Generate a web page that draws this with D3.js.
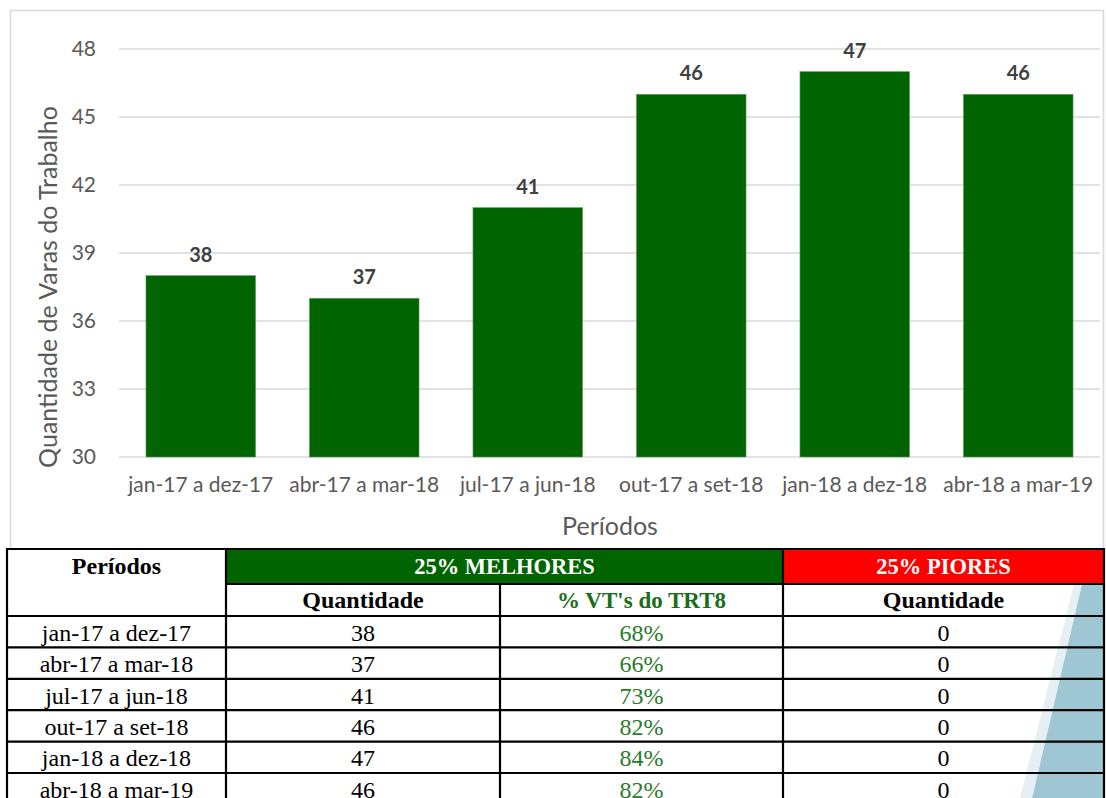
<!DOCTYPE html>
<html>
<head>
<meta charset="utf-8">
<script src="https://cdn.jsdelivr.net/npm/d3@7"></script>
<style>
  body { margin: 0; background: #fff; }
  svg { display: block; }
</style>
</head>
<body>
<div id="chart"></div>
<script>
// chart data
var periods = ["jan-17 a dez-17", "abr-17 a mar-18", "jul-17 a jun-18", "out-17 a set-18", "jan-18 a dez-18", "abr-18 a mar-19"];
var quantidade = [38, 37, 41, 46, 47, 46];
var yTicks = [30, 33, 36, 39, 42, 45, 48];

// table data
var pctTRT8 = ["68%", "66%", "73%", "82%", "84%", "82%"];
var piores = [0, 0, 0, 0, 0, 0];

var W = 1106, H = 798;
var green = "#006400";

var svg = d3.select("#chart").append("svg").attr("width", W).attr("height", H);

// chart frame
svg.append("rect").attr("x", 10.5).attr("y", 10.5).attr("width", 1093).attr("height", 560)
    .attr("fill", "#fff").attr("stroke", "#d9d9d9").attr("stroke-width", 1.5);

var x = d3.scaleBand().domain(periods).range([119, 1100]).paddingInner(0.33).paddingOuter(0.165);
var y = d3.scaleLinear().domain([30, 48]).range([457, 49]);

var g = svg.append("g");

// grid
g.selectAll("line.grid").data(yTicks).join("line")
    .attr("class", "grid")
    .attr("x1", 119).attr("x2", 1100)
    .attr("y1", function (d) { return y(d); }).attr("y2", function (d) { return y(d); })
    .attr("stroke", "#d9d9d9").attr("stroke-width", 1.3);

// y axis labels
var yAxis = g.append("g").attr("transform", "translate(96,0)")
    .call(d3.axisLeft(y).tickValues(yTicks).tickSize(0).tickPadding(0));
yAxis.select(".domain").remove();
yAxis.selectAll("text").attr("font-family", "Lato, sans-serif").attr("font-size", 21).attr("fill", "#595959");

// x axis labels
var xAxis = g.append("g").attr("transform", "translate(0,477)")
    .call(d3.axisBottom(x).tickSize(0).tickPadding(0));
xAxis.select(".domain").remove();
xAxis.selectAll("text").attr("font-family", "Lato, sans-serif").attr("font-size", 21).attr("fill", "#595959");

// bars
g.selectAll("rect.bar").data(periods).join("rect")
    .attr("class", "bar")
    .attr("x", function (d) { return x(d); })
    .attr("width", x.bandwidth())
    .attr("y", function (d, i) { return y(quantidade[i]); })
    .attr("height", function (d, i) { return y(30) - y(quantidade[i]); })
    .attr("fill", green).attr("stroke", "#5c9a5c").attr("stroke-width", 0.6);

// value labels
g.selectAll("text.val").data(periods).join("text")
    .attr("class", "val")
    .attr("x", function (d) { return x(d) + x.bandwidth() / 2; })
    .attr("y", function (d, i) { return y(quantidade[i]) - 14; })
    .attr("text-anchor", "middle")
    .attr("font-family", "Lato, sans-serif").attr("font-weight", "bold").attr("font-size", 20)
    .attr("fill", "#404040")
    .text(function (d, i) { return quantidade[i]; });

// axis titles
g.append("text").attr("x", 610).attr("y", 535).attr("text-anchor", "middle")
    .attr("font-family", "Lato, sans-serif").attr("font-size", 25).attr("fill", "#595959")
    .text("Períodos");
g.append("text").attr("transform", "translate(57,287) rotate(-90)").attr("text-anchor", "middle")
    .attr("font-family", "Lato, sans-serif").attr("font-size", 25).attr("fill", "#595959")
    .text("Quantidade de Varas do Trabalho");

// ---- table ----
var t = svg.append("g");
var cols = [7, 226, 500, 783, 1104];
var rowTop = [549, 584, 616];
var rowH = 31.4;
var serif = "'Liberation Serif', 'Times New Roman', serif";

t.append("rect").attr("x", cols[0]).attr("y", 549).attr("width", cols[4] - cols[0]).attr("height", H - 549).attr("fill", "#fff");

// decorative blue wedge behind the last column
t.append("polygon")
    .attr("points", [[1082, 584], [1104, 584], [1104, 798], [1032, 798]].join(" "))
    .attr("fill", "#9fc6d3");
t.append("polygon")
    .attr("points", [[1074, 584], [1082, 584], [1032, 798], [1020, 798]].join(" "))
    .attr("fill", "#dceaef").attr("opacity", 0.7);

// header fills
t.append("rect").attr("x", cols[1]).attr("y", rowTop[0]).attr("width", cols[3] - cols[1]).attr("height", rowTop[1] - rowTop[0]).attr("fill", green);
t.append("rect").attr("x", cols[3]).attr("y", rowTop[0]).attr("width", cols[4] - cols[3]).attr("height", rowTop[1] - rowTop[0]).attr("fill", "#ff0000");

function cellText(cx, cy, txt, opts) {
    t.append("text").attr("x", cx).attr("y", cy).attr("text-anchor", "middle")
        .attr("dominant-baseline", "central")
        .attr("font-family", serif).attr("font-size", opts.size || 24)
        .attr("font-weight", opts.bold ? "bold" : "normal")
        .attr("fill", opts.fill || "#000").text(txt);
}

cellText((cols[0] + cols[1]) / 2, 566, "Períodos", { bold: true, size: 24 });
cellText((cols[1] + cols[3]) / 2, 566, "25% MELHORES", { bold: true, fill: "#fff", size: 22.5 });
cellText((cols[3] + cols[4]) / 2, 566, "25% PIORES", { bold: true, fill: "#fff", size: 22.5 });
cellText((cols[1] + cols[2]) / 2, 600, "Quantidade", { bold: true, size: 24 });
cellText((cols[2] + cols[3]) / 2, 600, "% VT's do TRT8", { bold: true, fill: "#1a6e1a", size: 23 });
cellText((cols[3] + cols[4]) / 2, 600, "Quantidade", { bold: true, size: 24 });

periods.forEach(function (p, i) {
    var cy = rowTop[2] + rowH * i + rowH / 2 + 1;
    cellText((cols[0] + cols[1]) / 2, cy, p, {});
    cellText((cols[1] + cols[2]) / 2, cy, quantidade[i], {});
    cellText((cols[2] + cols[3]) / 2, cy, pctTRT8[i], { fill: "#2a7a2a" });
    cellText((cols[3] + cols[4]) / 2, cy, piores[i], {});
});

// borders
var bw = 2.2;
function hline(x1, x2, yy) {
    t.append("line").attr("x1", x1).attr("x2", x2).attr("y1", yy).attr("y2", yy).attr("stroke", "#000").attr("stroke-width", bw);
}
function vline(xx, y1, y2) {
    t.append("line").attr("x1", xx).attr("x2", xx).attr("y1", y1).attr("y2", y2).attr("stroke", "#000").attr("stroke-width", bw);
}
hline(cols[0] - 1, cols[4] + 1, rowTop[0]);
hline(cols[1], cols[4], rowTop[1]);
for (var r = 0; r <= periods.length; r++) {
    hline(cols[0] - 1, cols[4] + 1, rowTop[2] + rowH * r);
}
vline(cols[0], rowTop[0], H);
vline(cols[1], rowTop[0], H);
vline(cols[2], rowTop[1], H);
vline(cols[3], rowTop[0], H);
vline(cols[4], rowTop[0], H);
</script>
</body>
</html>
